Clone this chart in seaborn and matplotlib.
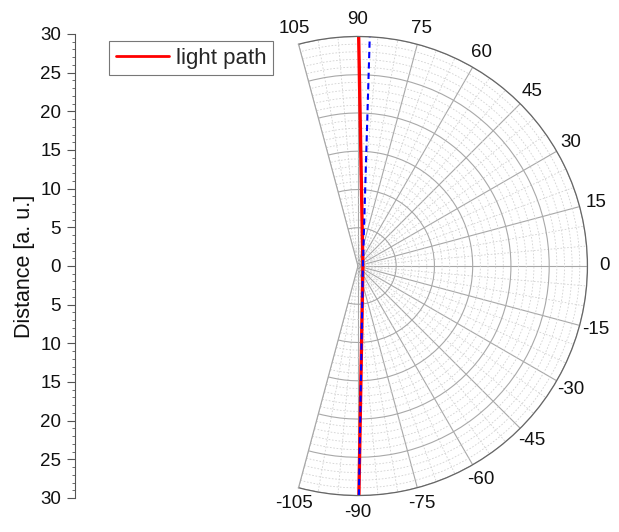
import numpy as np
import matplotlib
matplotlib.use("Agg")
import matplotlib.pyplot as plt
import seaborn as sns

# light path in cartesian units (a. u.), from bottom through the interface to the top
path_y = [-30.0, 0.0, 30.0]
red_x = [0.13, 0.65, 0.1]      # light path (solid red)
blue_x = [0.13, 0.65, 1.55]    # reference path (dashed blue)

theta_ticks = list(range(-105, 106, 15))
dist_ticks = list(range(-30, 31, 5))
r_max = 30

sns.set_theme(style="white")
plt.rcParams["font.family"] = ["Liberation Sans", "DejaVu Sans"]

W, H = 619, 532
fig = plt.figure(figsize=(W / 100, H / 100), dpi=100)

# polar wedge: centre (357, 265) px, radius 232 px
# matplotlib squares the wedge bbox, so the axes box is 2r x 2r
cx, cy, rad = 357, 266, 232
wx0 = rad * np.cos(np.radians(105))
wmid = (wx0 + rad) / 2
left = cx + wmid - rad
ax = fig.add_axes([left / W, (H - cy - rad) / H, 2 * rad / W, 2 * rad / H],
                  projection="polar")
ax.set_thetamin(-105)
ax.set_thetamax(105)
ax.set_rlim(0, r_max)

ax.set_xticks(np.radians(theta_ticks))
ax.set_xticklabels([str(t) for t in theta_ticks], fontsize=13.5, color="#111111")
ax.set_xticks(np.radians(np.arange(-105, 106, 5)), minor=True)
ax.set_yticks(np.arange(0, 31, 5))
ax.set_yticks(np.arange(0, 31, 1), minor=True)
ax.set_yticklabels([])
ax.tick_params(axis="x", which="major", pad=5, direction="in", length=8,
               color="#666666", width=0.8)
ax.tick_params(axis="x", which="minor", direction="in", length=4,
               color="#666666", width=0.8)
ax.tick_params(axis="y", which="both", length=0)
ax.grid(which="major", color="#a8a8a8", linewidth=0.8, linestyle="-")
ax.grid(which="minor", color="#d2d2d2", linewidth=0.6, linestyle=(0, (2, 2)))
ax.spines["polar"].set_color("#666666")
ax.spines["polar"].set_linewidth(0.9)
for s in ("start", "end", "inner"):
    ax.spines[s].set_color("#a8a8a8")
    ax.spines[s].set_linewidth(0.8)

x_r = np.array(red_x)
x_b = np.array(blue_x)
y = np.array(path_y)
sns.lineplot(x=np.arctan2(y, x_r), y=np.hypot(x_r, y), ax=ax, sort=False,
             estimator=None, color="#ff0000", linewidth=2.4, label="light path")
sns.lineplot(x=np.arctan2(y, x_b), y=np.hypot(x_b, y), ax=ax, sort=False,
             estimator=None, color="#0000ff", linewidth=1.5, linestyle=(0, (3, 2)))
ax.set_xlabel("")
ax.set_ylabel("")
ax.get_legend().remove()

# left distance axis
ax2 = fig.add_axes([75 / W, (H - cy - rad) / H, 0.001, 2 * rad / H])
ax2.set_ylim(-30, 30)
ax2.set_yticks(dist_ticks)
ax2.set_yticklabels([str(abs(t)) for t in dist_ticks], fontsize=13.5, color="#111111")
ax2.set_yticks(np.arange(-30, 31, 1), minor=True)
ax2.set_xticks([])
for s in ("top", "right", "bottom"):
    ax2.spines[s].set_visible(False)
ax2.spines["left"].set_color("#555555")
ax2.spines["left"].set_linewidth(0.8)
ax2.tick_params(axis="y", which="major", left=True, direction="out", length=6,
                width=0.8, color="#555555", pad=4)
ax2.tick_params(axis="y", which="minor", left=True, direction="out", length=2.5,
                width=0.6, color="#555555")
ax2.set_ylabel("Distance [a. u.]", fontsize=15.5, color="#111111", labelpad=4)
ax2.patch.set_alpha(0)

handles, labels = ax.get_legend_handles_labels()
leg = fig.legend(handles[:1], labels[:1], loc="upper left",
                 bbox_to_anchor=(109 / W, 1 - 41 / H), bbox_transform=fig.transFigure,
                 borderaxespad=0, fancybox=False, frameon=True, fontsize=16,
                 handlelength=2.4, handletextpad=0.3, borderpad=0.3)
leg.get_frame().set_edgecolor("#555555")
leg.get_frame().set_linewidth(0.8)
leg.get_lines()[0].set_linewidth(2.0)

fig.savefig("out.png", dpi=100)
